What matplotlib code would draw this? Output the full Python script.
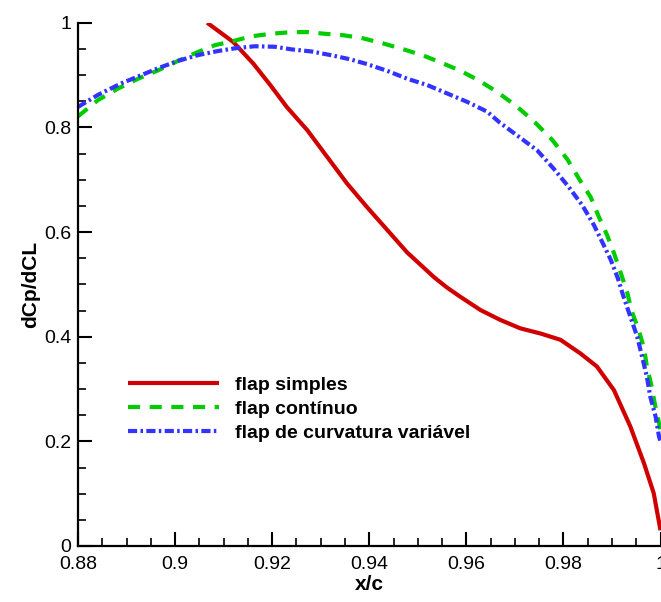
import matplotlib
matplotlib.use("Agg")
import matplotlib.pyplot as plt
from matplotlib.ticker import MultipleLocator, FuncFormatter

plt.rcParams['font.family'] = ['Liberation Sans', 'DejaVu Sans']

# ---- data ----
simples_x = [0.9066, 0.9120, 0.9161, 0.9196, 0.9230, 0.9272, 0.9313, 0.9354, 0.9395, 0.9437,
             0.9478, 0.9505, 0.9533, 0.9560, 0.9588, 0.9629, 0.9670, 0.9711, 0.9753, 0.9794,
             0.9835, 0.9869, 0.9904, 0.9938, 0.9966, 0.9986, 1.0]
simples_y = [1.0, 0.963, 0.922, 0.881, 0.839, 0.795, 0.744, 0.693, 0.648, 0.604,
             0.561, 0.538, 0.514, 0.494, 0.476, 0.451, 0.432, 0.416, 0.406, 0.394,
             0.368, 0.343, 0.298, 0.228, 0.158, 0.101, 0.030]

continuo_x = [0.88, 0.8841, 0.8882, 0.8924, 0.8965, 0.9006, 0.9047, 0.9082, 0.9120, 0.9157,
              0.9199, 0.9240, 0.9274, 0.9306, 0.9347, 0.9388, 0.9430, 0.9471, 0.9512, 0.9550,
              0.9588, 0.9625, 0.9663, 0.9704, 0.9742, 0.9777, 0.9808, 0.9832, 0.9856, 0.9873,
              0.9890, 0.9904, 0.9918, 0.9931, 0.9941, 0.9955, 0.9966, 0.9972, 0.9981, 0.9988,
              0.9997, 1.0]
continuo_y = [0.821, 0.852, 0.874, 0.893, 0.909, 0.927, 0.944, 0.957, 0.965, 0.974,
              0.979, 0.982, 0.982, 0.979, 0.976, 0.970, 0.960, 0.949, 0.937, 0.923,
              0.908, 0.890, 0.868, 0.840, 0.809, 0.776, 0.739, 0.702, 0.667, 0.629,
              0.594, 0.560, 0.522, 0.486, 0.448, 0.413, 0.378, 0.343, 0.308, 0.273,
              0.234, 0.220]

variavel_x = [0.88, 0.8841, 0.8889, 0.8931, 0.8965, 0.9006, 0.9047, 0.9089, 0.9123, 0.9164,
              0.9206, 0.9240, 0.9281, 0.9321, 0.9361, 0.9395, 0.9437, 0.9478, 0.9519, 0.9560,
              0.9601, 0.9643, 0.9669, 0.9704, 0.9746, 0.9780, 0.9811, 0.9839, 0.9863, 0.9883,
              0.9897, 0.9912, 0.9924, 0.9938, 0.9952, 0.9962, 0.9972, 0.9979, 0.9990, 0.9997,
              1.0]
variavel_y = [0.839, 0.862, 0.884, 0.900, 0.913, 0.927, 0.938, 0.946, 0.951, 0.955,
              0.954, 0.949, 0.945, 0.938, 0.930, 0.921, 0.908, 0.893, 0.881, 0.865,
              0.849, 0.830, 0.809, 0.785, 0.756, 0.721, 0.686, 0.651, 0.613, 0.575,
              0.548, 0.512, 0.476, 0.438, 0.400, 0.362, 0.323, 0.285, 0.247, 0.209,
              0.200]

labels = ["flap simples", "flap contínuo", "flap de curvatura variável"]
xlabel = "x/c"
ylabel = "dCp/dCL"

# ---- figure ----
fig = plt.figure(figsize=(6.61, 6.02), dpi=100)
ax = fig.add_axes([78 / 661, 56 / 602, (660.5 - 78) / 661, (546 - 22.7) / 602])

ax.plot(simples_x, simples_y, color='#d00000', lw=3.0, solid_capstyle='butt',
        solid_joinstyle='round', label=labels[0])
ax.plot(continuo_x, continuo_y, color='#00cc00', lw=3.0, dashes=(2.9, 2.3), label=labels[1])
ax.plot(variavel_x, variavel_y, color='#3333ff', lw=3.0, dashes=(2.2, 0.8, 0.6, 0.8), label=labels[2])

ax.set_xlim(0.88, 1.0)
ax.set_ylim(0, 1)
ax.xaxis.set_major_locator(MultipleLocator(0.02))
ax.xaxis.set_minor_locator(MultipleLocator(0.005))
ax.yaxis.set_major_locator(MultipleLocator(0.2))
ax.yaxis.set_minor_locator(MultipleLocator(0.05))
fmt = FuncFormatter(lambda v, p: ("%g" % round(v, 4)))
ax.xaxis.set_major_formatter(fmt)
ax.yaxis.set_major_formatter(fmt)

for s in ['top', 'right']:
    ax.spines[s].set_visible(False)
for s in ['left', 'bottom']:
    ax.spines[s].set_linewidth(1.6)

ax.tick_params(which='major', direction='in', length=10, width=1.5, labelsize=14, pad=5)
ax.tick_params(which='minor', direction='in', length=5.5, width=1.2)
ax.tick_params(axis='x', which='major', pad=7)

ax.set_xlabel(xlabel, fontsize=15, fontweight='bold', labelpad=2)
ax.set_ylabel(ylabel, fontsize=15, fontweight='bold', labelpad=3)

leg = ax.legend(loc='upper left', bbox_to_anchor=(128 / 661, 1 - 376 / 602),
                bbox_transform=fig.transFigure, frameon=False,
                prop={'size': 14, 'weight': 'bold'}, handlelength=4.7,
                handletextpad=0.8, labelspacing=0.33, borderpad=0, borderaxespad=0)

fig.savefig("out.png", dpi=100)
